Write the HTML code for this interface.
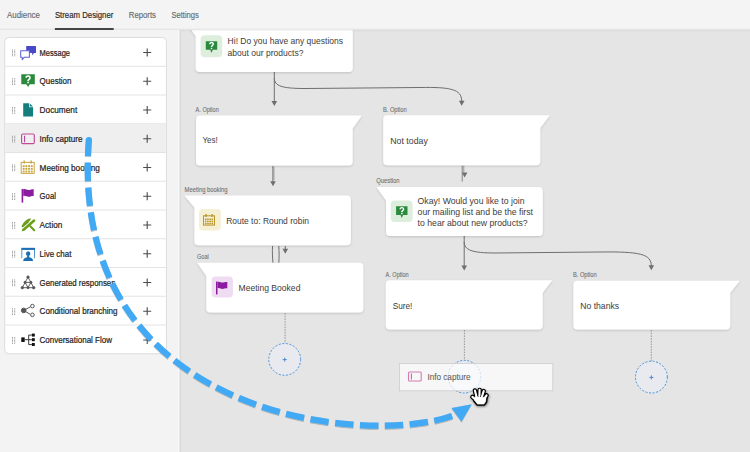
<!DOCTYPE html>
<html><head><meta charset="utf-8"><style>
html,body{margin:0;padding:0;width:750px;height:452px;overflow:hidden;background:#e5e5e5;font-family:"Liberation Sans", sans-serif;}
</style></head><body>
<svg width="750" height="452" viewBox="0 0 750 452" style="display:block;font-family:&quot;Liberation Sans&quot;, sans-serif">
<defs>
<filter id="sh" x="-10%" y="-20%" width="120%" height="150%"><feDropShadow dx="0" dy="1" stdDeviation="1" flood-color="#000" flood-opacity="0.16"/></filter>
<filter id="hs" x="-50%" y="-50%" width="200%" height="200%"><feDropShadow dx="0.5" dy="1" stdDeviation="0.8" flood-color="#000" flood-opacity="0.5"/></filter>
<filter id="bs" x="-20%" y="-20%" width="140%" height="140%"><feDropShadow dx="0" dy="0.7" stdDeviation="0.6" flood-color="#000" flood-opacity="0.35"/></filter>
</defs>
<rect width="750" height="452" fill="#e5e5e5"/>
<g fill="none" stroke="#6e6e6e" stroke-width="1">
<path d="M274.3,72 L274.3,102"/>
<path d="M274.3,78 C274.3,86 282,88.5 305,88.5 L420,87.5 C450,87 461.7,89 461.7,101"/>
<path d="M272.9,166 L272.9,182"/><path d="M273.9,167 L273.9,180" stroke="#9a9a9a"/>
<path d="M272.5,246 C272.2,252 272.5,258 273.0,263"/><path d="M278.8,246 C279.2,252 279.2,258 278.8,263"/>
<path d="M285.3,246 L285.3,250"/>
<path d="M462.2,165.5 L462.2,181.5" stroke="#858585"/><path d="M463.8,165.5 L463.8,172.5" stroke="#9a9a9a"/>
<path d="M464.2,236 L464.2,266"/>
<path d="M464.2,242 C464.2,250 472,253 495,253 L600,252 C640,251.5 651.3,254 651.3,266"/>
</g>
<g fill="#6e6e6e">
<path d="M271.50,101.00 L277.10,101.00 L274.3,106 Z"/>
<path d="M270.20,181.20 L275.80,181.20 L273.0,186.2 Z"/>
<path d="M282.50,248.70 L288.10,248.70 L285.3,253.7 Z"/>
<path d="M461.80,172.50 L467.40,172.50 L464.6,177.5 Z"/>
<path d="M461.40,265.50 L467.00,265.50 L464.2,270.5 Z"/>
<path d="M458.90,100.80 L464.50,100.80 L461.7,105.8 Z"/>
<path d="M648.50,265.20 L654.10,265.20 L651.3,270.2 Z"/>
</g>
<g stroke="#8c8c8c" stroke-width="0.85" stroke-dasharray="1.6 1.1" fill="none">
<path d="M285.1,313 L285.1,343"/><path d="M464.4,330 L464.4,360"/><path d="M651.3,330 L651.3,361"/>
</g>
<circle cx="284.7" cy="359.4" r="15.9" fill="#e8eaef" stroke="#4a90d9" stroke-width="1" stroke-dasharray="2 1.6"/>
<circle cx="651.4" cy="377.1" r="15.9" fill="#e8eaef" stroke="#4a90d9" stroke-width="1" stroke-dasharray="2 1.6"/>
<circle cx="464.4" cy="376.7" r="16.3" fill="#e8eaef" stroke="#4a90d9" stroke-width="1" stroke-dasharray="2 1.6"/>
<path d="M282.70,359.60 L286.70,359.60 M284.70,357.60 L284.70,361.60" stroke="#3a80d2" stroke-width="0.9"/>
<path d="M649.40,377.40 L653.40,377.40 M651.40,375.40 L651.40,379.40" stroke="#3a80d2" stroke-width="0.9"/>
<g fill="#fff" filter="url(#sh)">
<path d="M186,23 L348.8,23 Q352.8,23 352.8,27 L352.8,68 Q352.8,72 348.8,72 L199.7,72 Q195.7,72 195.7,68 L195.7,36 Z"/>
<path d="M200,115.5 L362,115.5 L352.7,128.5 L352.7,161.5 Q352.7,165.5 348.7,165.5 L200,165.5 Q196,165.5 196,161.5 L196,119.5 Q196,115.5 200,115.5 Z"/>
<path d="M387.2,115.3 L549.9,115.3 L540.3,128.0 L540.3,161.2 Q540.3,165.2 536.3,165.2 L387.2,165.2 Q383.2,165.2 383.2,161.2 L383.2,119.3 Q383.2,115.3 387.2,115.3 Z"/>
<path d="M184.3,195.6 L346.9,195.6 Q350.9,195.6 350.9,199.6 L350.9,241.3 Q350.9,245.3 346.9,245.3 L198.4,245.3 Q194.4,245.3 194.4,241.3 L194.4,207.6 Z"/>
<path d="M197.2,262.8 L359.3,262.8 Q363.3,262.8 363.3,266.8 L363.3,308.5 Q363.3,312.5 359.3,312.5 L210.3,312.5 Q206.3,312.5 206.3,308.5 L206.3,276.0 Z"/>
<path d="M376.3,187 L538.8,187 Q542.8,187 542.8,191 L542.8,232 Q542.8,236 538.8,236 L390,236 Q386,236 386,232 L386,200.5 Z"/>
<path d="M389.8,280.2 L552.3,280.2 L542.7,292.8 L542.7,325.6 Q542.7,329.6 538.7,329.6 L389.8,329.6 Q385.8,329.6 385.8,325.6 L385.8,284.2 Q385.8,280.2 389.8,280.2 Z"/>
<path d="M577.4,280.7 L739.8,280.7 L730.2,293.0 L730.2,325.5 Q730.2,329.5 726.2,329.5 L577.4,329.5 Q573.4,329.5 573.4,325.5 L573.4,284.7 Q573.4,280.7 577.4,280.7 Z"/>
</g>
<rect x="200.6" y="35.3" width="21.6" height="22" rx="4" fill="#ddeedd"/>
<path d="M205.8,41.2 h11.4 v8.6 h-4.4 l-1.3,3.2 l-1.3,-3.2 h-4.4 Z" fill="#2b8a3e"/><path d="M209.73,44.25 C209.73,42.01 213.27,42.01 213.27,44.07 C213.27,45.56 211.50,45.56 211.50,47.05" fill="none" stroke="#fff" stroke-width="1.4"/><rect x="210.80" y="47.80" width="1.4" height="1.40" fill="#fff"/>
<rect x="390.8" y="200.5" width="21.8" height="21.5" rx="4" fill="#ddeedd"/>
<path d="M396.1,206.3 h11.4 v8.6 h-4.4 l-1.3,3.2 l-1.3,-3.2 h-4.4 Z" fill="#2b8a3e"/><path d="M400.03,209.35 C400.03,207.11 403.57,207.11 403.57,209.17 C403.57,210.66 401.80,210.66 401.80,212.15" fill="none" stroke="#fff" stroke-width="1.4"/><rect x="401.10" y="212.90" width="1.4" height="1.40" fill="#fff"/>
<rect x="199" y="209" width="21.9" height="21.5" rx="4" fill="#f5efd3"/>
<g fill="none" stroke="#b9972b" stroke-width="1.0"><rect x="203.5" y="215.8" width="11" height="9.3"/><path d="M206.00,214 V217 M212.00,214 V217" stroke-width="1.4"/></g><rect x="204.93" y="218.52" width="1.54" height="1.49" fill="#b9972b"/><rect x="204.93" y="220.65" width="1.54" height="1.49" fill="#b9972b"/><rect x="204.93" y="222.79" width="1.54" height="1.49" fill="#b9972b"/><rect x="207.13" y="218.52" width="1.54" height="1.49" fill="#b9972b"/><rect x="207.13" y="220.65" width="1.54" height="1.49" fill="#b9972b"/><rect x="207.13" y="222.79" width="1.54" height="1.49" fill="#b9972b"/><rect x="209.33" y="218.52" width="1.54" height="1.49" fill="#b9972b"/><rect x="209.33" y="220.65" width="1.54" height="1.49" fill="#b9972b"/><rect x="209.33" y="222.79" width="1.54" height="1.49" fill="#b9972b"/><rect x="211.53" y="218.52" width="1.54" height="1.49" fill="#b9972b"/><rect x="211.53" y="220.65" width="1.54" height="1.49" fill="#b9972b"/><rect x="211.53" y="222.79" width="1.54" height="1.49" fill="#b9972b"/>
<rect x="211.6" y="276.6" width="21.3" height="20.9" rx="4" fill="#efdcf2"/>
<g transform="translate(216,281.6) scale(1)" fill="#8b1c9f"><rect x="0" y="0" width="1.5" height="12.8"/><path d="M1.5,0.4 C3.5,-0.4 4.6,1.0 6.4,1.0 C8.0,1.0 8.6,0.3 11.3,0.3 V6.6 C8.6,6.6 8.0,7.3 6.4,7.3 C4.6,7.3 3.5,5.9 1.5,6.7 Z"/></g>
<text x="227.6" y="44.3" font-size="9.8" fill="#3c3c3c" font-weight="normal" textLength="115.4" lengthAdjust="spacingAndGlyphs" stroke="#3c3c3c" stroke-width="0.0" >Hi! Do you have any questions</text>
<text x="227.6" y="55.6" font-size="9.8" fill="#3c3c3c" font-weight="normal" textLength="75.8" lengthAdjust="spacingAndGlyphs" stroke="#3c3c3c" stroke-width="0.0" >about our products?</text>
<text x="202.5" y="143.3" font-size="9.8" fill="#3c3c3c" font-weight="normal" textLength="15.2" lengthAdjust="spacingAndGlyphs" stroke="#3c3c3c" stroke-width="0.0" >Yes!</text>
<text x="390.3" y="144" font-size="9.8" fill="#3c3c3c" font-weight="normal" textLength="37.5" lengthAdjust="spacingAndGlyphs" stroke="#3c3c3c" stroke-width="0.0" >Not today</text>
<text x="226.2" y="223.6" font-size="9.8" fill="#3c3c3c" font-weight="normal" textLength="82.8" lengthAdjust="spacingAndGlyphs" stroke="#3c3c3c" stroke-width="0.0" >Route to: Round robin</text>
<text x="238.5" y="291" font-size="9.8" fill="#3c3c3c" font-weight="normal" textLength="61.9" lengthAdjust="spacingAndGlyphs" stroke="#3c3c3c" stroke-width="0.0" >Meeting Booked</text>
<text x="417.6" y="203.6" font-size="9.8" fill="#3c3c3c" font-weight="normal" textLength="106.9" lengthAdjust="spacingAndGlyphs" stroke="#3c3c3c" stroke-width="0.0" >Okay! Would you like to join</text>
<text x="417.6" y="214.7" font-size="9.8" fill="#3c3c3c" font-weight="normal" textLength="115.4" lengthAdjust="spacingAndGlyphs" stroke="#3c3c3c" stroke-width="0.0" >our mailing list and be the first</text>
<text x="417.6" y="225.7" font-size="9.8" fill="#3c3c3c" font-weight="normal" textLength="110" lengthAdjust="spacingAndGlyphs" stroke="#3c3c3c" stroke-width="0.0" >to hear about new products?</text>
<text x="392.7" y="309" font-size="9.8" fill="#3c3c3c" font-weight="normal" textLength="19.7" lengthAdjust="spacingAndGlyphs" stroke="#3c3c3c" stroke-width="0.0" >Sure!</text>
<text x="580.2" y="308.6" font-size="9.8" fill="#3c3c3c" font-weight="normal" textLength="38.9" lengthAdjust="spacingAndGlyphs" stroke="#3c3c3c" stroke-width="0.0" >No thanks</text>
<text x="195.6" y="111.6" font-size="6.6" fill="#6c6c6c" font-weight="normal" textLength="23.2" lengthAdjust="spacingAndGlyphs" stroke="#6c6c6c" stroke-width="0.08" >A. Option</text>
<text x="383" y="111.6" font-size="6.6" fill="#6c6c6c" font-weight="normal" textLength="23.7" lengthAdjust="spacingAndGlyphs" stroke="#6c6c6c" stroke-width="0.08" >B. Option</text>
<text x="184.6" y="191.8" font-size="6.6" fill="#6c6c6c" font-weight="normal" textLength="42.9" lengthAdjust="spacingAndGlyphs" stroke="#6c6c6c" stroke-width="0.08" >Meeting booking</text>
<text x="197" y="259" font-size="6.6" fill="#6c6c6c" font-weight="normal" textLength="11.7" lengthAdjust="spacingAndGlyphs" stroke="#6c6c6c" stroke-width="0.08" >Goal</text>
<text x="376.3" y="182.8" font-size="6.6" fill="#6c6c6c" font-weight="normal" textLength="23.3" lengthAdjust="spacingAndGlyphs" stroke="#6c6c6c" stroke-width="0.08" >Question</text>
<text x="385.5" y="276.8" font-size="6.6" fill="#6c6c6c" font-weight="normal" textLength="23.2" lengthAdjust="spacingAndGlyphs" stroke="#6c6c6c" stroke-width="0.08" >A. Option</text>
<text x="573" y="276.5" font-size="6.6" fill="#6c6c6c" font-weight="normal" textLength="23.7" lengthAdjust="spacingAndGlyphs" stroke="#6c6c6c" stroke-width="0.08" >B. Option</text>
<rect x="0" y="0" width="750" height="29.5" fill="#f4f4f4"/>
<linearGradient id="hg" x1="0" y1="0" x2="0" y2="1"><stop offset="0" stop-color="#000" stop-opacity="0.06"/><stop offset="1" stop-color="#000" stop-opacity="0"/></linearGradient>
<rect x="0" y="28.6" width="750" height="1.2" fill="#e8e8e8"/>
<rect x="0" y="29.8" width="750" height="2" fill="url(#hg)"/>
<text x="7" y="17.6" font-size="9.1" fill="#686868" font-weight="normal" textLength="32.9" lengthAdjust="spacingAndGlyphs" stroke="#686868" stroke-width="0.14" >Audience</text>
<text x="54.9" y="17.6" font-size="9.1" fill="#2a2a2a" font-weight="normal" textLength="58.5" lengthAdjust="spacingAndGlyphs" stroke="#2a2a2a" stroke-width="0.18" >Stream Designer</text>
<text x="128.8" y="17.6" font-size="9.1" fill="#686868" font-weight="normal" textLength="27.2" lengthAdjust="spacingAndGlyphs" stroke="#686868" stroke-width="0.14" >Reports</text>
<text x="171.4" y="17.6" font-size="9.1" fill="#686868" font-weight="normal" textLength="27.5" lengthAdjust="spacingAndGlyphs" stroke="#686868" stroke-width="0.14" >Settings</text>
<rect x="54.9" y="28.1" width="58.8" height="1.8" fill="#333333"/>
<rect x="0" y="30" width="180" height="422" fill="#f3f3f3"/>
<rect x="178.2" y="30" width="1.2" height="422" fill="#f8f8f8"/>
<rect x="179.6" y="30" width="1.2" height="422" fill="#d6d6d6"/>
<rect x="4.7" y="37.5" width="161.7" height="316.25" rx="4" fill="#fff" stroke="#dcdcdc" stroke-width="1"/>
<rect x="5.2" y="124.25" width="160.7" height="27.75" fill="#efefef"/>
<rect x="5.2" y="65.75" width="160.7" height="1" fill="#e3e3e3"/>
<rect x="5.2" y="94.50" width="160.7" height="1" fill="#e3e3e3"/>
<rect x="5.2" y="123.25" width="160.7" height="1" fill="#e3e3e3"/>
<rect x="5.2" y="152.00" width="160.7" height="1" fill="#e3e3e3"/>
<rect x="5.2" y="180.75" width="160.7" height="1" fill="#e3e3e3"/>
<rect x="5.2" y="209.50" width="160.7" height="1" fill="#e3e3e3"/>
<rect x="5.2" y="238.25" width="160.7" height="1" fill="#e3e3e3"/>
<rect x="5.2" y="267.00" width="160.7" height="1" fill="#e3e3e3"/>
<rect x="5.2" y="295.75" width="160.7" height="1" fill="#e3e3e3"/>
<rect x="5.2" y="324.50" width="160.7" height="1" fill="#e3e3e3"/>
<text x="39.6" y="55.7" font-size="9.2" fill="#222" font-weight="normal" textLength="30.4" lengthAdjust="spacingAndGlyphs" stroke="#222" stroke-width="0.22" >Message</text>
<rect x="12.0" y="49.48" width="0.9" height="1.0" fill="#8f8f8f"/>
<rect x="12.0" y="50.93" width="0.9" height="1.0" fill="#8f8f8f"/>
<rect x="12.0" y="52.38" width="0.9" height="1.0" fill="#8f8f8f"/>
<rect x="12.0" y="53.83" width="0.9" height="1.0" fill="#8f8f8f"/>
<rect x="12.0" y="55.27" width="0.9" height="1.0" fill="#8f8f8f"/>
<rect x="14.3" y="49.48" width="0.9" height="1.0" fill="#8f8f8f"/>
<rect x="14.3" y="50.93" width="0.9" height="1.0" fill="#8f8f8f"/>
<rect x="14.3" y="52.38" width="0.9" height="1.0" fill="#8f8f8f"/>
<rect x="14.3" y="53.83" width="0.9" height="1.0" fill="#8f8f8f"/>
<rect x="14.3" y="55.27" width="0.9" height="1.0" fill="#8f8f8f"/>
<path d="M143.2,52.48 H151.2 M147.2,48.48 V56.48" stroke="#4b4b4b" stroke-width="1.1"/>
<text x="39.6" y="84.45" font-size="9.2" fill="#222" font-weight="normal" textLength="31.9" lengthAdjust="spacingAndGlyphs" stroke="#222" stroke-width="0.22" >Question</text>
<rect x="12.0" y="78.22" width="0.9" height="1.0" fill="#8f8f8f"/>
<rect x="12.0" y="79.67" width="0.9" height="1.0" fill="#8f8f8f"/>
<rect x="12.0" y="81.12" width="0.9" height="1.0" fill="#8f8f8f"/>
<rect x="12.0" y="82.57" width="0.9" height="1.0" fill="#8f8f8f"/>
<rect x="12.0" y="84.02" width="0.9" height="1.0" fill="#8f8f8f"/>
<rect x="14.3" y="78.22" width="0.9" height="1.0" fill="#8f8f8f"/>
<rect x="14.3" y="79.67" width="0.9" height="1.0" fill="#8f8f8f"/>
<rect x="14.3" y="81.12" width="0.9" height="1.0" fill="#8f8f8f"/>
<rect x="14.3" y="82.57" width="0.9" height="1.0" fill="#8f8f8f"/>
<rect x="14.3" y="84.02" width="0.9" height="1.0" fill="#8f8f8f"/>
<path d="M143.2,81.22 H151.2 M147.2,77.22 V85.22" stroke="#4b4b4b" stroke-width="1.1"/>
<text x="39.6" y="113.2" font-size="9.2" fill="#222" font-weight="normal" textLength="37.6" lengthAdjust="spacingAndGlyphs" stroke="#222" stroke-width="0.22" >Document</text>
<rect x="12.0" y="106.97" width="0.9" height="1.0" fill="#8f8f8f"/>
<rect x="12.0" y="108.42" width="0.9" height="1.0" fill="#8f8f8f"/>
<rect x="12.0" y="109.88" width="0.9" height="1.0" fill="#8f8f8f"/>
<rect x="12.0" y="111.32" width="0.9" height="1.0" fill="#8f8f8f"/>
<rect x="12.0" y="112.77" width="0.9" height="1.0" fill="#8f8f8f"/>
<rect x="14.3" y="106.97" width="0.9" height="1.0" fill="#8f8f8f"/>
<rect x="14.3" y="108.42" width="0.9" height="1.0" fill="#8f8f8f"/>
<rect x="14.3" y="109.88" width="0.9" height="1.0" fill="#8f8f8f"/>
<rect x="14.3" y="111.32" width="0.9" height="1.0" fill="#8f8f8f"/>
<rect x="14.3" y="112.77" width="0.9" height="1.0" fill="#8f8f8f"/>
<path d="M143.2,109.97 H151.2 M147.2,105.97 V113.97" stroke="#4b4b4b" stroke-width="1.1"/>
<text x="39.6" y="141.95" font-size="9.2" fill="#222" font-weight="normal" textLength="42.9" lengthAdjust="spacingAndGlyphs" stroke="#222" stroke-width="0.22" >Info capture</text>
<rect x="12.0" y="135.72" width="0.9" height="1.0" fill="#8f8f8f"/>
<rect x="12.0" y="137.17" width="0.9" height="1.0" fill="#8f8f8f"/>
<rect x="12.0" y="138.62" width="0.9" height="1.0" fill="#8f8f8f"/>
<rect x="12.0" y="140.07" width="0.9" height="1.0" fill="#8f8f8f"/>
<rect x="12.0" y="141.53" width="0.9" height="1.0" fill="#8f8f8f"/>
<rect x="14.3" y="135.72" width="0.9" height="1.0" fill="#8f8f8f"/>
<rect x="14.3" y="137.17" width="0.9" height="1.0" fill="#8f8f8f"/>
<rect x="14.3" y="138.62" width="0.9" height="1.0" fill="#8f8f8f"/>
<rect x="14.3" y="140.07" width="0.9" height="1.0" fill="#8f8f8f"/>
<rect x="14.3" y="141.53" width="0.9" height="1.0" fill="#8f8f8f"/>
<path d="M143.2,138.72 H151.2 M147.2,134.72 V142.72" stroke="#4b4b4b" stroke-width="1.1"/>
<text x="39.6" y="170.7" font-size="9.2" fill="#222" font-weight="normal" textLength="60.2" lengthAdjust="spacingAndGlyphs" stroke="#222" stroke-width="0.22" >Meeting booking</text>
<rect x="12.0" y="164.47" width="0.9" height="1.0" fill="#8f8f8f"/>
<rect x="12.0" y="165.92" width="0.9" height="1.0" fill="#8f8f8f"/>
<rect x="12.0" y="167.38" width="0.9" height="1.0" fill="#8f8f8f"/>
<rect x="12.0" y="168.82" width="0.9" height="1.0" fill="#8f8f8f"/>
<rect x="12.0" y="170.28" width="0.9" height="1.0" fill="#8f8f8f"/>
<rect x="14.3" y="164.47" width="0.9" height="1.0" fill="#8f8f8f"/>
<rect x="14.3" y="165.92" width="0.9" height="1.0" fill="#8f8f8f"/>
<rect x="14.3" y="167.38" width="0.9" height="1.0" fill="#8f8f8f"/>
<rect x="14.3" y="168.82" width="0.9" height="1.0" fill="#8f8f8f"/>
<rect x="14.3" y="170.28" width="0.9" height="1.0" fill="#8f8f8f"/>
<path d="M143.2,167.47 H151.2 M147.2,163.47 V171.47" stroke="#4b4b4b" stroke-width="1.1"/>
<text x="39.6" y="199.45" font-size="9.2" fill="#222" font-weight="normal" textLength="16.3" lengthAdjust="spacingAndGlyphs" stroke="#222" stroke-width="0.22" >Goal</text>
<rect x="12.0" y="193.22" width="0.9" height="1.0" fill="#8f8f8f"/>
<rect x="12.0" y="194.67" width="0.9" height="1.0" fill="#8f8f8f"/>
<rect x="12.0" y="196.12" width="0.9" height="1.0" fill="#8f8f8f"/>
<rect x="12.0" y="197.57" width="0.9" height="1.0" fill="#8f8f8f"/>
<rect x="12.0" y="199.03" width="0.9" height="1.0" fill="#8f8f8f"/>
<rect x="14.3" y="193.22" width="0.9" height="1.0" fill="#8f8f8f"/>
<rect x="14.3" y="194.67" width="0.9" height="1.0" fill="#8f8f8f"/>
<rect x="14.3" y="196.12" width="0.9" height="1.0" fill="#8f8f8f"/>
<rect x="14.3" y="197.57" width="0.9" height="1.0" fill="#8f8f8f"/>
<rect x="14.3" y="199.03" width="0.9" height="1.0" fill="#8f8f8f"/>
<path d="M143.2,196.22 H151.2 M147.2,192.22 V200.22" stroke="#4b4b4b" stroke-width="1.1"/>
<text x="39.6" y="228.2" font-size="9.2" fill="#222" font-weight="normal" textLength="22.7" lengthAdjust="spacingAndGlyphs" stroke="#222" stroke-width="0.22" >Action</text>
<rect x="12.0" y="221.97" width="0.9" height="1.0" fill="#8f8f8f"/>
<rect x="12.0" y="223.42" width="0.9" height="1.0" fill="#8f8f8f"/>
<rect x="12.0" y="224.88" width="0.9" height="1.0" fill="#8f8f8f"/>
<rect x="12.0" y="226.32" width="0.9" height="1.0" fill="#8f8f8f"/>
<rect x="12.0" y="227.78" width="0.9" height="1.0" fill="#8f8f8f"/>
<rect x="14.3" y="221.97" width="0.9" height="1.0" fill="#8f8f8f"/>
<rect x="14.3" y="223.42" width="0.9" height="1.0" fill="#8f8f8f"/>
<rect x="14.3" y="224.88" width="0.9" height="1.0" fill="#8f8f8f"/>
<rect x="14.3" y="226.32" width="0.9" height="1.0" fill="#8f8f8f"/>
<rect x="14.3" y="227.78" width="0.9" height="1.0" fill="#8f8f8f"/>
<path d="M143.2,224.97 H151.2 M147.2,220.97 V228.97" stroke="#4b4b4b" stroke-width="1.1"/>
<text x="39.6" y="256.95" font-size="9.2" fill="#222" font-weight="normal" textLength="31.8" lengthAdjust="spacingAndGlyphs" stroke="#222" stroke-width="0.22" >Live chat</text>
<rect x="12.0" y="250.72" width="0.9" height="1.0" fill="#8f8f8f"/>
<rect x="12.0" y="252.17" width="0.9" height="1.0" fill="#8f8f8f"/>
<rect x="12.0" y="253.62" width="0.9" height="1.0" fill="#8f8f8f"/>
<rect x="12.0" y="255.07" width="0.9" height="1.0" fill="#8f8f8f"/>
<rect x="12.0" y="256.52" width="0.9" height="1.0" fill="#8f8f8f"/>
<rect x="14.3" y="250.72" width="0.9" height="1.0" fill="#8f8f8f"/>
<rect x="14.3" y="252.17" width="0.9" height="1.0" fill="#8f8f8f"/>
<rect x="14.3" y="253.62" width="0.9" height="1.0" fill="#8f8f8f"/>
<rect x="14.3" y="255.07" width="0.9" height="1.0" fill="#8f8f8f"/>
<rect x="14.3" y="256.52" width="0.9" height="1.0" fill="#8f8f8f"/>
<path d="M143.2,253.72 H151.2 M147.2,249.72 V257.73" stroke="#4b4b4b" stroke-width="1.1"/>
<text x="39.6" y="285.7" font-size="9.2" fill="#222" font-weight="normal" textLength="75.5" lengthAdjust="spacingAndGlyphs" stroke="#222" stroke-width="0.22" >Generated responses</text>
<rect x="12.0" y="279.48" width="0.9" height="1.0" fill="#8f8f8f"/>
<rect x="12.0" y="280.93" width="0.9" height="1.0" fill="#8f8f8f"/>
<rect x="12.0" y="282.38" width="0.9" height="1.0" fill="#8f8f8f"/>
<rect x="12.0" y="283.83" width="0.9" height="1.0" fill="#8f8f8f"/>
<rect x="12.0" y="285.28" width="0.9" height="1.0" fill="#8f8f8f"/>
<rect x="14.3" y="279.48" width="0.9" height="1.0" fill="#8f8f8f"/>
<rect x="14.3" y="280.93" width="0.9" height="1.0" fill="#8f8f8f"/>
<rect x="14.3" y="282.38" width="0.9" height="1.0" fill="#8f8f8f"/>
<rect x="14.3" y="283.83" width="0.9" height="1.0" fill="#8f8f8f"/>
<rect x="14.3" y="285.28" width="0.9" height="1.0" fill="#8f8f8f"/>
<path d="M143.2,282.48 H151.2 M147.2,278.48 V286.48" stroke="#4b4b4b" stroke-width="1.1"/>
<text x="39.6" y="314.45" font-size="9.2" fill="#222" font-weight="normal" textLength="78" lengthAdjust="spacingAndGlyphs" stroke="#222" stroke-width="0.22" >Conditional branching</text>
<rect x="12.0" y="308.23" width="0.9" height="1.0" fill="#8f8f8f"/>
<rect x="12.0" y="309.68" width="0.9" height="1.0" fill="#8f8f8f"/>
<rect x="12.0" y="311.12" width="0.9" height="1.0" fill="#8f8f8f"/>
<rect x="12.0" y="312.58" width="0.9" height="1.0" fill="#8f8f8f"/>
<rect x="12.0" y="314.03" width="0.9" height="1.0" fill="#8f8f8f"/>
<rect x="14.3" y="308.23" width="0.9" height="1.0" fill="#8f8f8f"/>
<rect x="14.3" y="309.68" width="0.9" height="1.0" fill="#8f8f8f"/>
<rect x="14.3" y="311.12" width="0.9" height="1.0" fill="#8f8f8f"/>
<rect x="14.3" y="312.58" width="0.9" height="1.0" fill="#8f8f8f"/>
<rect x="14.3" y="314.03" width="0.9" height="1.0" fill="#8f8f8f"/>
<path d="M143.2,311.23 H151.2 M147.2,307.23 V315.23" stroke="#4b4b4b" stroke-width="1.1"/>
<text x="39.6" y="343.2" font-size="9.2" fill="#222" font-weight="normal" textLength="72.4" lengthAdjust="spacingAndGlyphs" stroke="#222" stroke-width="0.22" >Conversational Flow</text>
<rect x="12.0" y="336.98" width="0.9" height="1.0" fill="#8f8f8f"/>
<rect x="12.0" y="338.43" width="0.9" height="1.0" fill="#8f8f8f"/>
<rect x="12.0" y="339.88" width="0.9" height="1.0" fill="#8f8f8f"/>
<rect x="12.0" y="341.33" width="0.9" height="1.0" fill="#8f8f8f"/>
<rect x="12.0" y="342.78" width="0.9" height="1.0" fill="#8f8f8f"/>
<rect x="14.3" y="336.98" width="0.9" height="1.0" fill="#8f8f8f"/>
<rect x="14.3" y="338.43" width="0.9" height="1.0" fill="#8f8f8f"/>
<rect x="14.3" y="339.88" width="0.9" height="1.0" fill="#8f8f8f"/>
<rect x="14.3" y="341.33" width="0.9" height="1.0" fill="#8f8f8f"/>
<rect x="14.3" y="342.78" width="0.9" height="1.0" fill="#8f8f8f"/>
<path d="M143.2,339.98 H151.2 M147.2,335.98 V343.98" stroke="#4b4b4b" stroke-width="1.1"/>
<g transform="translate(20,45.475)"><path d="M6.2,0.5 h9.2 a0.6,0.6 0 0 1 0.6,0.6 v5.8 a0.6,0.6 0 0 1 -0.6,0.6 h-1.4 l-1.8,2.4 v-2.4 h-6 Z" fill="#4848c8"/><path d="M0.7,5.2 h8.7 v6.5 h-5 l-2.2,2.4 v-2.4 h-1.5 Z" fill="#fff" stroke="#6262d6" stroke-width="1.05" stroke-linejoin="round"/></g>
<g transform="translate(21.3,74.32499999999999)"><path d="M0,0 h13.5 v9.9 h-5 l-1.75,2.8 l-1.75,-2.8 h-5 Z" fill="#2b8a3e"/><path d="M4.82,3.53 C4.82,1.10 8.68,1.10 8.68,3.33 C8.68,4.95 6.75,4.95 6.75,6.57" fill="none" stroke="#fff" stroke-width="1.6"/><rect x="5.95" y="7.38" width="1.6" height="1.52" fill="#fff"/></g>
<g transform="translate(23.2,103.175)"><path d="M0,0 H5.9 V4.0 H9.9 V13.3 H0 Z" fill="#147d7d"/><path d="M6.6,0.2 L9.8,3.4 H6.6 Z" fill="#147d7d"/></g>
<g transform="translate(21,133.42499999999998)" fill="none" stroke="#c24c9a" stroke-width="1.15"><rect x="0.6" y="0.6" width="12.7" height="9.6" rx="1.2"/><path d="M3.6,2.2 V8.8" stroke="#b04498" stroke-width="1.1"/></g>
<g fill="none" stroke="#c8a640" stroke-width="1.0"><rect x="21.2" y="162.375" width="13" height="11.0"/><path d="M24.20,160.575 V163.575 M31.20,160.575 V163.575" stroke-width="1.4"/></g><rect x="22.71" y="165.18" width="1.89" height="1.89" fill="#c8a640"/><rect x="22.71" y="167.88" width="1.89" height="1.89" fill="#c8a640"/><rect x="22.71" y="170.58" width="1.89" height="1.89" fill="#c8a640"/><rect x="25.41" y="165.18" width="1.89" height="1.89" fill="#c8a640"/><rect x="25.41" y="167.88" width="1.89" height="1.89" fill="#c8a640"/><rect x="25.41" y="170.58" width="1.89" height="1.89" fill="#c8a640"/><rect x="28.11" y="165.18" width="1.89" height="1.89" fill="#c8a640"/><rect x="28.11" y="167.88" width="1.89" height="1.89" fill="#c8a640"/><rect x="28.11" y="170.58" width="1.89" height="1.89" fill="#c8a640"/><rect x="30.81" y="165.18" width="1.89" height="1.89" fill="#c8a640"/><rect x="30.81" y="167.88" width="1.89" height="1.89" fill="#c8a640"/><rect x="30.81" y="170.58" width="1.89" height="1.89" fill="#c8a640"/>
<g transform="translate(21.6,188.92499999999998) scale(1.07)" fill="#8b1c9f"><rect x="0" y="0" width="1.5" height="12.8"/><path d="M1.5,0.4 C3.5,-0.4 4.6,1.0 6.4,1.0 C8.0,1.0 8.6,0.3 11.3,0.3 V6.6 C8.6,6.6 8.0,7.3 6.4,7.3 C4.6,7.3 3.5,5.9 1.5,6.7 Z"/></g>
<g transform="translate(21,217.975)" fill="#6a9e1a"><path d="M9.3,8.3 L13.2,12.2" stroke="#6a9e1a" stroke-width="2.1" stroke-linecap="round"/><path d="M2.9,11.5 L13.1,2.5" stroke="#6a9e1a" stroke-width="2.5" stroke-linecap="round"/><path d="M0.8,13.4 L1.5,10.6 L3.5,12.6 Z"/><path d="M0.4,8.4 C1.5,5.8 3.8,2.8 6.2,1.4 C7.5,0.6 8.8,0.3 10,0.5 L9.5,1.9 C8.6,2.3 7.9,3.2 8.1,4.1 L6,5.9 L3,8.5 L1.7,9.6 Z"/></g>
<g transform="translate(21.5,247.025)"><path d="M0.3,2.5 V11.2 M13.0,2.5 V11.2" stroke="#3f86c8" stroke-width="0.9" fill="none"/><rect x="-0.2" y="0.8" width="13.7" height="2.1" fill="#1c6fb5"/><ellipse cx="6.65" cy="6.6" rx="2.2" ry="2.5" fill="#1c6fb5"/><path d="M5.6,8.6 h2.1 v1.6 C10.2,10.6 11.5,11.6 11.6,14 H1.7 C1.8,11.6 3.1,10.6 5.6,10.2 Z" fill="#1c6fb5"/></g>
<g transform="translate(21,275.875)" stroke="#555" stroke-width="0.9" fill="#555"><path d="M7,1.2 L1.3,11.8 L12.7,11.8 Z M4.1,6.5 L9.9,6.5 L7,11.8 Z" fill="none"/><circle cx="7" cy="1.2" r="1.2"/><circle cx="1.3" cy="11.8" r="1.2"/><circle cx="12.7" cy="11.8" r="1.2"/><circle cx="4.1" cy="6.5" r="1.1"/><circle cx="9.9" cy="6.5" r="1.1"/><circle cx="7" cy="11.8" r="1.1"/></g>
<g transform="translate(21,304.225)" stroke="#555" stroke-width="1" fill="none"><path d="M2.7,6.2 L9.4,2.6 M2.7,6.2 L9.4,10.2"/><circle cx="2.7" cy="6.2" r="2.3" fill="#555"/><circle cx="11.4" cy="1.9" r="1.8" fill="#fff"/><circle cx="11.4" cy="10.6" r="1.8" fill="#fff"/></g>
<g transform="translate(21.3,332.77500000000003)" fill="#111"><rect x="0" y="4.6" width="3.4" height="4.6"/><path d="M3.4,6.9 H7.4 M7.4,2.3 V11.8 M7.4,2.3 H10.6 M7.4,6.9 H10.6 M7.4,11.8 H10.6" stroke="#222" stroke-width="0.9" fill="none"/><rect x="10.6" y="0.8" width="2.9" height="3"/><rect x="10.6" y="5.4" width="2.9" height="3"/><rect x="10.6" y="10.2" width="2.9" height="3"/></g>
<rect x="399.5" y="363.5" width="153.3" height="27.3" fill="#ffffff" fill-opacity="0.7" stroke="#cccccc" stroke-width="0.8"/>
<g fill="none" stroke="#d47bb0" stroke-width="1.1"><rect x="408.5" y="372" width="12.7" height="9" rx="1"/><path d="M411.4,373.6 V379.4" stroke="#c06aa8"/></g>
<text x="427.4" y="380" font-size="9.2" fill="#606060" font-weight="normal" textLength="43.1" lengthAdjust="spacingAndGlyphs" stroke="#606060" stroke-width="0.08" >Info capture</text>
<g filter="url(#bs)"><path d="M88.9,139.6 C66.82,420.94 369.04,446.31 453,415.5" fill="none" stroke="#42aaf5" stroke-width="6.2" stroke-dasharray="18.4 6.52" stroke-dashoffset="2.0"/>
<circle cx="88.9" cy="140" r="3.1" fill="#42aaf5"/>
<path d="M451.5,408 L471.7,404.2 L461.5,421.8 Z" fill="#42aaf5"/></g>
<g filter="url(#hs)"><g transform="translate(470,387)">
<g stroke="#000" stroke-linecap="round" stroke-linejoin="round" fill="#000">
<path d="M6.6,10 L4.9,3.5 M9.4,9 L9.6,2.9 M12,9.5 L13.7,4.1 M14.3,11.5 L16.6,8.4 M6.5,13.5 L2.4,9.9" stroke-width="4.5"/>
<path d="M5,9.5 L16.2,10.5 L15.8,14.5 L14,17.2 L7.5,17.2 L4.5,13.5 Z" stroke-width="3.2"/>
</g>
<g stroke="#fff" stroke-linecap="round" stroke-linejoin="round" fill="#fff">
<path d="M6.6,10 L4.9,3.5 M9.4,9 L9.6,2.9 M12,9.5 L13.7,4.1 M14.3,11.5 L16.6,8.4 M6.5,13.5 L2.4,9.9" stroke-width="2.1"/>
<path d="M5,9.5 L16.2,10.5 L15.8,14.5 L14,17.2 L7.5,17.2 L4.5,13.5 Z" stroke-width="0.2"/>
</g>
</g>
</g>
</svg>
</body></html>
